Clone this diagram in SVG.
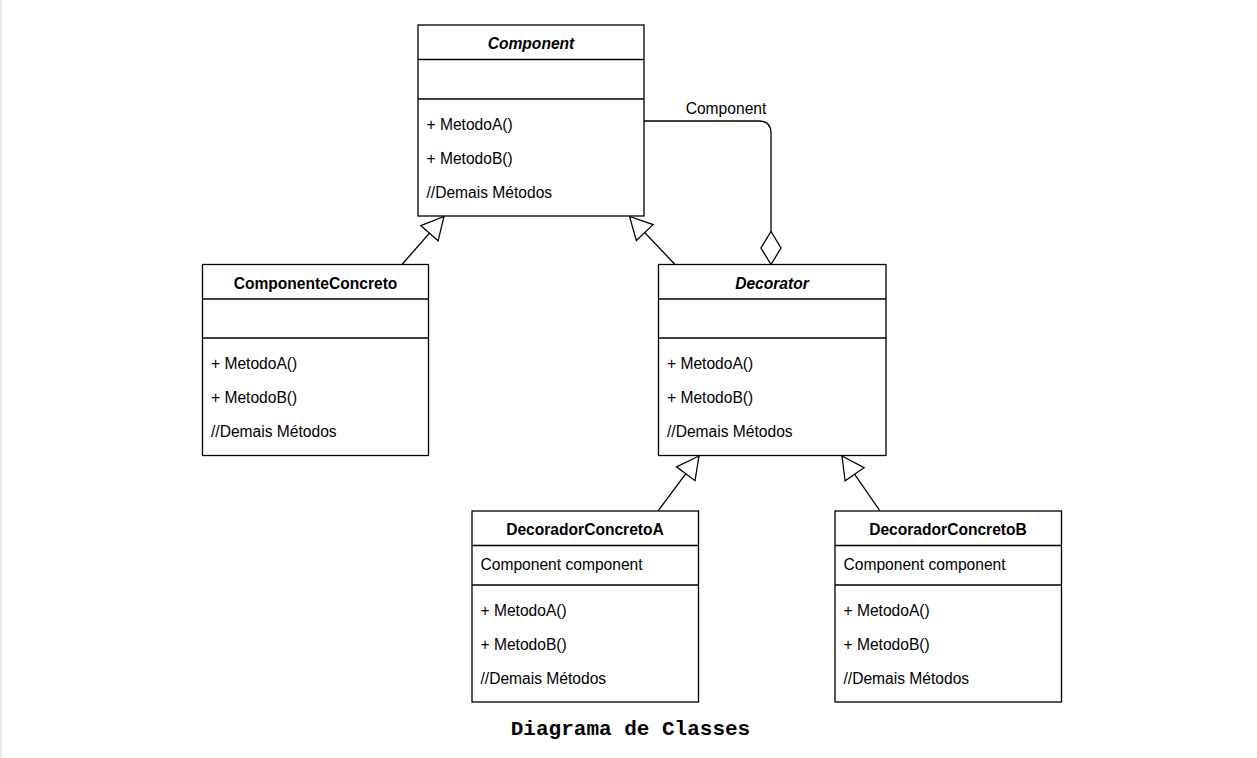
<svg xmlns="http://www.w3.org/2000/svg" width="1257" height="758" viewBox="0 0 1257 758">
  <style>
    .box { fill: #ffffff; stroke: #000000; stroke-width: 1.3; }
    .div { stroke: #000000; stroke-width: 1.3; fill: none; }
    .t { font-family: "Liberation Sans", Arial, sans-serif; font-size: 15.6px; fill: #000000; }
    .title { font-weight: bold; text-anchor: middle; }
    .abstract { font-style: italic; }
    .edge { fill: none; stroke: #000000; stroke-width: 1.3; }
    .caption { font-family: "Liberation Mono", "Courier New", monospace; font-size: 21px; font-weight: bold; fill: #000000; }
  </style>
  <defs>
    <marker id="gen" markerUnits="userSpaceOnUse" markerWidth="26" markerHeight="28" refX="23" refY="12" orient="auto" viewBox="-2 -2 27 28">
      <path d="M0,0 L23,12 L0,24 Z" fill="#ffffff" stroke="#000000" stroke-width="1.3"/>
    </marker>
    <marker id="agg" markerUnits="userSpaceOnUse" markerWidth="37" markerHeight="24" refX="33" refY="10" orient="auto" viewBox="-2 -2 37 24">
      <path d="M0,10 L16.5,0 L33,10 L16.5,20 Z" fill="#ffffff" stroke="#000000" stroke-width="1.3"/>
    </marker>
  </defs>

  <rect x="0" y="0" width="1257" height="758" fill="#ffffff"/>
  <rect x="0" y="0" width="1.5" height="758" fill="#e6e6e6"/>

  <g id="connectors">
    <path class="edge" d="M402,264.5 L444,216.5" marker-end="url(#gen)"/>
    <path class="edge" d="M675,264.5 L629.5,216.5" marker-end="url(#gen)"/>
    <path class="edge" d="M658,511 L699,456" marker-end="url(#gen)"/>
    <path class="edge" d="M880,511 L842,456" marker-end="url(#gen)"/>
    <path class="edge" d="M644,121 H759 Q771,121 771,133 V264.5" marker-end="url(#agg)"/>
    <text class="t" x="726" y="113.5" text-anchor="middle">Component</text>
  </g>

  <g id="component">
    <rect class="box" x="418" y="25" width="226" height="191"/>
    <line class="div" x1="418" y1="59.5" x2="644" y2="59.5"/>
    <line class="div" x1="418" y1="99" x2="644" y2="99"/>
    <text class="t title abstract" x="531" y="49">Component</text>
    <text class="t" x="426.5" y="129.5">+ MetodoA()</text>
    <text class="t" x="426.5" y="163.5">+ MetodoB()</text>
    <text class="t" x="426.5" y="197.5">//Demais Métodos</text>
  </g>

  <g id="componenteConcreto">
    <rect class="box" x="202.5" y="264.5" width="226" height="191"/>
    <line class="div" x1="202.5" y1="299" x2="428.5" y2="299"/>
    <line class="div" x1="202.5" y1="338" x2="428.5" y2="338"/>
    <text class="t title" x="315.5" y="288.5">ComponenteConcreto</text>
    <text class="t" x="211" y="368.5">+ MetodoA()</text>
    <text class="t" x="211" y="402.5">+ MetodoB()</text>
    <text class="t" x="211" y="436.5">//Demais Métodos</text>
  </g>

  <g id="decorator">
    <rect class="box" x="658.5" y="264.5" width="227.5" height="191"/>
    <line class="div" x1="658.5" y1="299" x2="886" y2="299"/>
    <line class="div" x1="658.5" y1="338" x2="886" y2="338"/>
    <text class="t title abstract" x="772" y="288.5">Decorator</text>
    <text class="t" x="667" y="368.5">+ MetodoA()</text>
    <text class="t" x="667" y="402.5">+ MetodoB()</text>
    <text class="t" x="667" y="436.5">//Demais Métodos</text>
  </g>

  <g id="decoradorConcretoA">
    <rect class="box" x="472" y="511" width="226.5" height="191"/>
    <line class="div" x1="472" y1="545.5" x2="698.5" y2="545.5"/>
    <line class="div" x1="472" y1="585" x2="698.5" y2="585"/>
    <text class="t title" x="585" y="535">DecoradorConcretoA</text>
    <text class="t" x="480.5" y="569.5">Component component</text>
    <text class="t" x="480.5" y="615.5">+ MetodoA()</text>
    <text class="t" x="480.5" y="649.5">+ MetodoB()</text>
    <text class="t" x="480.5" y="683.5">//Demais Métodos</text>
  </g>

  <g id="decoradorConcretoB">
    <rect class="box" x="835" y="511" width="226.5" height="191"/>
    <line class="div" x1="835" y1="545.5" x2="1061.5" y2="545.5"/>
    <line class="div" x1="835" y1="585" x2="1061.5" y2="585"/>
    <text class="t title" x="948" y="535">DecoradorConcretoB</text>
    <text class="t" x="843.5" y="569.5">Component component</text>
    <text class="t" x="843.5" y="615.5">+ MetodoA()</text>
    <text class="t" x="843.5" y="649.5">+ MetodoB()</text>
    <text class="t" x="843.5" y="683.5">//Demais Métodos</text>
  </g>

  <text class="caption" x="630.5" y="735" text-anchor="middle">Diagrama de Classes</text>
</svg>
